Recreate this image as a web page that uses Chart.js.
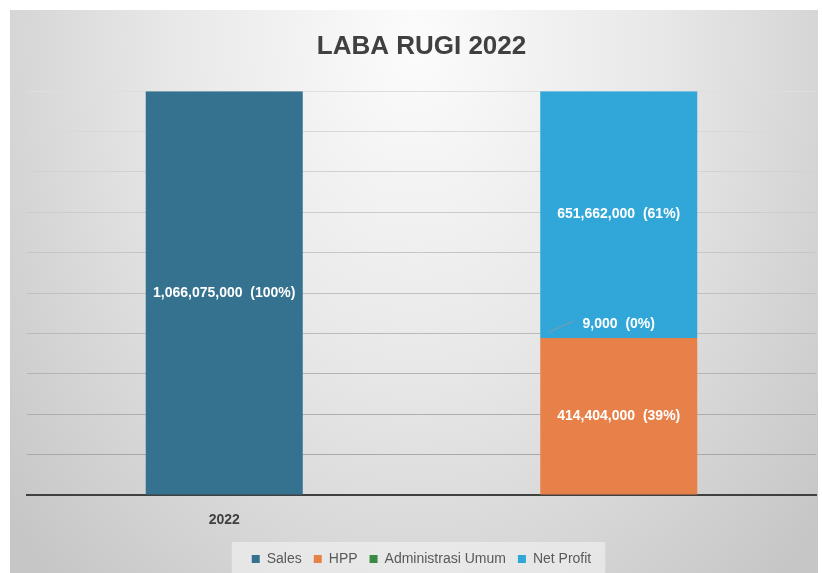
<!DOCTYPE html>
<html>
<head>
<meta charset="utf-8">
<script src="https://cdn.jsdelivr.net/npm/chart.js@4.4.1/dist/chart.umd.min.js"></script>
<style>
  html, body { margin: 0; padding: 0; background: #ffffff; }
  #wrap { width: 822px; height: 573px; position: relative; }
</style>
</head>
<body>
<div id="wrap"><canvas id="chart"></canvas></div>
<script>
// data
const categories = ['2022', ''];
const seriesNames = ['Sales', 'HPP', 'Administrasi Umum', 'Net Profit'];
const salesValues = [1066075000, null];
const hppValues = [null, 414404000];
const adminValues = [null, 9000];
const netProfitValues = [null, 651662000];
const seriesColors = ['#35728f', '#e8804a', '#3a8a44', '#31a7d9'];

const FONT = "'Liberation Sans', Arial, sans-serif";
const yMax = Math.max(...salesValues.filter(v => v !== null));

// background: white frame + soft grey vignette, plus lighter box behind legend
const backgroundPlugin = {
    id: 'bg',
    beforeDraw(chart) {
        const ctx = chart.ctx;
        const w = chart.width, h = chart.height;
        ctx.save();
        ctx.fillStyle = '#ffffff';
        ctx.fillRect(0, 0, w, h);
        ctx.translate(415, 40);
        ctx.scale(1, 1.35);
        const g = ctx.createRadialGradient(0, 0, 0, 0, 0, 540);
        g.addColorStop(0, '#fcfcfc');
        g.addColorStop(0.45, '#e8e8e8');
        g.addColorStop(1, '#c6c6c6');
        ctx.fillStyle = g;
        ctx.fillRect(-405, -30 / 1.35, 808, 563 / 1.35);
        ctx.restore();

        const boxes = chart.legend && chart.legend.legendHitBoxes;
        if (boxes && boxes.length) {
            const left = Math.min(...boxes.map(b => b.left)) - 20;
            const right = Math.max(...boxes.map(b => b.left + b.width)) + 14;
            ctx.save();
            ctx.fillStyle = 'rgba(245,245,245,0.55)';
            ctx.fillRect(left, 542, right - left, 31);
            ctx.restore();
        }
    }
};

// value + share labels centred in each segment
const labelPlugin = {
    id: 'segLabels',
    afterDatasetsDraw(chart) {
        const ctx = chart.ctx;
        const n = chart.data.labels.length;
        const totals = [];
        for (let i = 0; i < n; i++) {
            totals[i] = chart.data.datasets.reduce((s, d) => s + (d.data[i] || 0), 0);
        }
        ctx.save();
        ctx.font = 'bold 14px ' + FONT;
        ctx.textAlign = 'center';
        ctx.textBaseline = 'middle';
        chart.data.datasets.forEach((ds, di) => {
            const meta = chart.getDatasetMeta(di);
            meta.data.forEach((el, i) => {
                const v = ds.data[i];
                if (v === null || v === undefined) return;
                const pct = Math.round(v / totals[i] * 100);
                const txt = v.toLocaleString('en-US') + '  (' + pct + '%)';
                const hgt = Math.abs(el.base - el.y);
                let ty = (el.y + el.base) / 2;
                if (hgt < 12) {
                    // tiny slice: label above with a leader line
                    ty = el.y - 14;
                    ctx.strokeStyle = 'rgba(150,150,150,0.8)';
                    ctx.lineWidth = 1;
                    ctx.beginPath();
                    ctx.moveTo(el.x - 70, el.y - 6);
                    ctx.lineTo(el.x - 45, el.y - 17);
                    ctx.stroke();
                }
                ctx.fillStyle = '#ffffff';
                ctx.fillText(txt, el.x, ty);
            });
        });
        ctx.restore();
    }
};

const allValues = [salesValues, hppValues, adminValues, netProfitValues];
const datasets = seriesNames.map((name, i) => ({
    label: name,
    data: allValues[i],
    backgroundColor: seriesColors[i],
    borderWidth: 0,
    categoryPercentage: 1,
    barPercentage: 0.398
}));

const gridColor = (c) => {
    const t = c.tick ? c.tick.value / yMax : 0;
    const g = Math.round(162 + (222 - 162) * t);
    return `rgb(${g},${g},${g})`;
};

new Chart(document.getElementById('chart'), {
    type: 'bar',
    data: { labels: categories, datasets: datasets },
    options: {
        responsive: true,
        maintainAspectRatio: false,
        animation: false,
        layout: { padding: { top: 10, left: 27, right: 6, bottom: -3 } },
        plugins: {
            title: {
                display: true,
                text: 'LABA RUGI 2022',
                color: '#404040',
                font: { size: 26, weight: 'bold', family: FONT },
                padding: { top: 21, bottom: 29 }
            },
            legend: {
                position: 'bottom',
                labels: {
                    boxWidth: 8,
                    boxHeight: 8,
                    padding: 12,
                    color: '#595959',
                    font: { size: 14, family: FONT }
                }
            },
            tooltip: { enabled: false }
        },
        scales: {
            x: {
                stacked: true,
                grid: { display: false, drawTicks: false },
                border: { display: true, color: '#404040', width: 2 },
                ticks: { color: '#404040', padding: 17, font: { size: 14, weight: 'bold', family: FONT } },
                afterFit(scale) { scale.height = 45; }
            },
            y: {
                stacked: true,
                min: 0,
                max: yMax,
                ticks: { display: false, stepSize: yMax / 10 },
                grid: { color: gridColor, lineWidth: 1, drawTicks: false },
                border: { display: false }
            }
        }
    },
    plugins: [backgroundPlugin, labelPlugin]
});
</script>
</body>
</html>
